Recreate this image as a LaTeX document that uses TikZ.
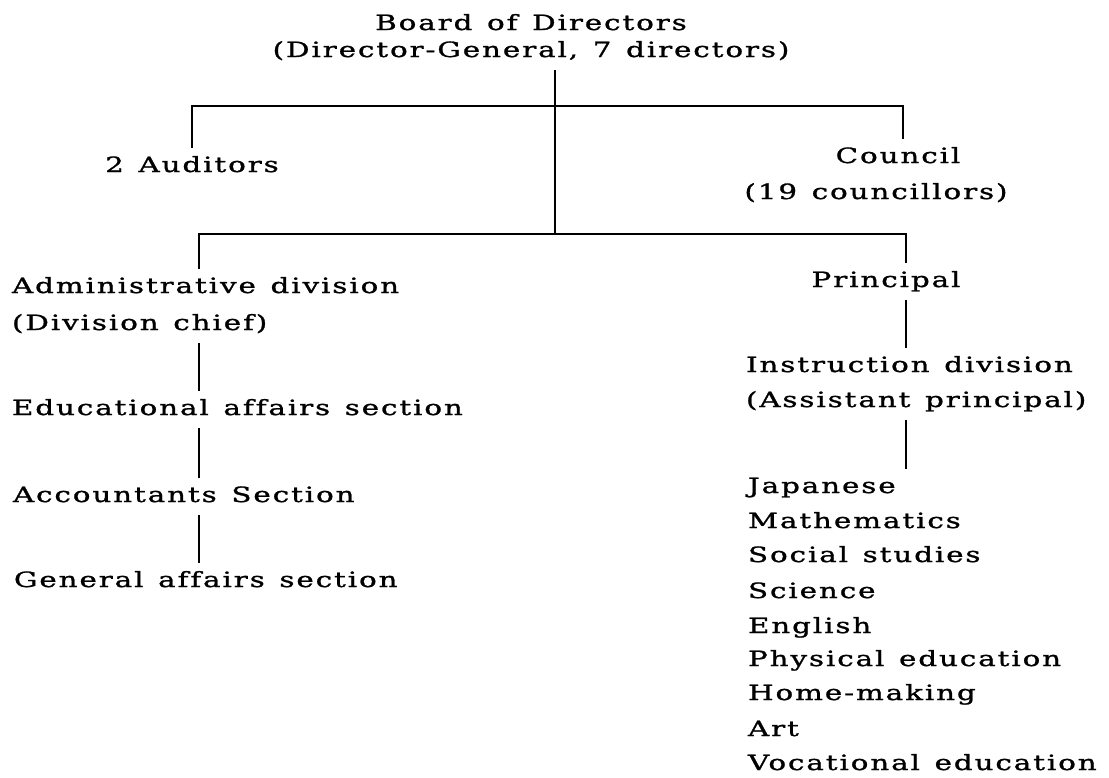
\documentclass[tikz,border=0pt]{standalone}
\usepackage{fontspec}
\setmainfont{DejaVu Serif}[FakeStretch=1.4, LetterSpace=9, FakeBold=1.2, WordSpace=1.3, Ligatures=NoCommon]
\begin{document}
\begin{tikzpicture}[x=1pt,y=-1pt,
  lbl/.style={font=\fontsize{21}{25}\selectfont, inner xsep=0pt, inner ysep=0pt, outer sep=0pt, text height=24pt, text depth=13pt},
  lblw/.style={lbl, anchor=base west},
  lblc/.style={lbl, anchor=base},
  link/.style={line width=2.8pt}]
\useasboundingbox[fill=white] (0,0) rectangle (1109,777);
% helper coordinates
\coordinate (xt) at (555,0);
\coordinate (xl) at (199,0);
\coordinate (xr) at (906,0);
\coordinate (bar1) at (555,106);
\coordinate (bar2) at (555,234);
% top
\node[lblc] (board1) at (531,30) {Board of Directors};
\node[lblc] (board2) at (531,57) {(Director-General, 7 directors)};
\node[lblc] (aud) at (192,172) {2 Auditors};
\node[lblc] (council1) at (898,163) {Council};
\node[lblc] (council2) at (876,199) {(19 councillors)};
% left column
\node[lblw] (admin) at (12,293) {Administrative division};
\node[lblw] (divchief) at (12,330) {(Division chief)};
\node[lblw] (edu) at (12,415) {Educational affairs section};
\node[lblw] (acc) at (13,502) {Accountants Section};
\node[lblw] (gen) at (14,587) {General affairs section};
% right column
\node[lblc] (principal) at (886,287) {Principal};
\node[lblw] (instr) at (746,372) {Instruction division};
\node[lblw] (assist) at (746,407) {(Assistant principal)};
\node[lblw] (japanese) at (748,493) {Japanese};
\node[lblw] (math) at (748,528) {Mathematics};
\node[lblw] (social) at (748,562) {Social studies};
\node[lblw] (science) at (748,598) {Science};
\node[lblw] (english) at (748,633) {English};
\node[lblw] (phys) at (748,666) {Physical education};
\node[lblw] (home) at (748,700) {Home-making};
\node[lblw] (art) at (748,736) {Art};
\node[lblw] (voc) at (748,770) {Vocational education};
% connectors
\draw[link] (board2.south -| xt) -- (bar2);
\draw[link] (aud.north) |- (bar1) -| ([xshift=5pt]council1.north);
\draw[link] (admin.north -| xl) |- (bar2) -| (principal.north -| xr);
\draw[link] (divchief.south -| xl) -- (edu.north -| xl);
\draw[link] (edu.south -| xl) -- (acc.north -| xl);
\draw[link] (acc.south -| xl) -- (gen.north -| xl);
\draw[link] (principal.south -| xr) -- (instr.north -| xr);
\draw[link] (assist.south -| xr) -- (japanese.north -| xr);
\end{tikzpicture}
\end{document}
